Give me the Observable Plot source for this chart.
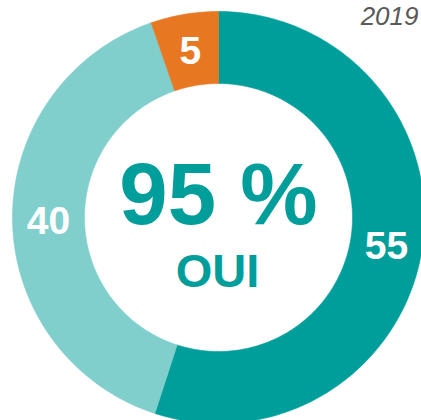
<!DOCTYPE html>
<html>
<head>
<meta charset="utf-8">
<script src="https://cdn.jsdelivr.net/npm/d3@7"></script>
<script src="https://cdn.jsdelivr.net/npm/@observablehq/plot@0.6"></script>
<style>
  html, body { margin: 0; padding: 0; background: #fff; overflow: hidden; }
  #chart svg { overflow: hidden; display: block; }
</style>
</head>
<body>
<div id="chart"></div>
<script>
// ---- data ----
const categories = ["Oui, tout à fait", "Oui, plutôt", "Non"];
const shares = [55, 39.7, 5.3];       // slice sizes
const valueLabels = ["55", "40", "5"]; // rounded values printed on the slices
const colors = ["#009E9A", "#80CFCD", "#E87722"];
const headline = "95 %";
const headlineLabel = "OUI";
const yearLabel = "2019";

// ---- geometry (in scale units, one unit ≈ one pixel) ----
const R_OUT = 206, R_IN = 134, R_LABEL = 170;
const total = d3.sum(shares);
let cum = 0;
const slices = categories.map((c, i) => {
  const a0 = cum / total * 2 * Math.PI;
  cum += shares[i];
  const a1 = cum / total * 2 * Math.PI;
  return {cat: c, label: valueLabels[i], a0, a1};
});
const ringPts = [];
for (const s of slices) {
  const n = Math.max(8, Math.ceil((s.a1 - s.a0) / (Math.PI / 180)));
  const pts = [];
  for (let k = 0; k <= n; k++) {
    const a = s.a0 + (s.a1 - s.a0) * k / n;
    pts.push({cat: s.cat, x: R_OUT * Math.sin(a), y: R_OUT * Math.cos(a)});
  }
  for (let k = n; k >= 0; k--) {
    const a = s.a0 + (s.a1 - s.a0) * k / n;
    pts.push({cat: s.cat, x: R_IN * Math.sin(a), y: R_IN * Math.cos(a)});
  }
  pts.push({...pts[0]});
  ringPts.push(...pts);
}
const labels = slices.map(s => {
  const a = (s.a0 + s.a1) / 2;
  return {text: s.label, x: R_LABEL * Math.sin(a), y: R_LABEL * Math.cos(a)};
});

const font = "'Liberation Sans', Arial, Helvetica, sans-serif";

const chart = Plot.plot({
  width: 421,
  height: 420,
  margin: 0,
  style: {background: "#fff", fontFamily: font},
  x: {domain: [-218, 203], axis: null},
  y: {domain: [-203, 217], axis: null},
  color: {domain: categories, range: colors},
  marks: [
    Plot.line(ringPts, {x: "x", y: "y", z: "cat", fill: "cat", stroke: "cat", strokeWidth: 0.6, curve: "linear"}),
    Plot.text(labels, {x: "x", y: "y", text: "text", fill: "#fff", fontSize: 39, fontWeight: "bold", lineAnchor: "middle", textAnchor: "middle", dy: 2}),
    Plot.text([headline], {x: 0, y: -6, text: d => d, fill: colors[0], fontSize: 87, fontWeight: "bold", lineAnchor: "bottom", textAnchor: "middle"}),
    Plot.text([headlineLabel], {x: -1, y: -69, text: d => d, fill: colors[0], fontSize: 47, fontWeight: "bold", lineAnchor: "bottom", textAnchor: "middle"}),
    Plot.text([yearLabel], {x: 200, y: 193, text: d => d, fill: "#595959", fontSize: 26, fontStyle: "italic", lineAnchor: "bottom", textAnchor: "end"})
  ]
});
document.getElementById("chart").appendChild(chart);
</script>
</body>
</html>
